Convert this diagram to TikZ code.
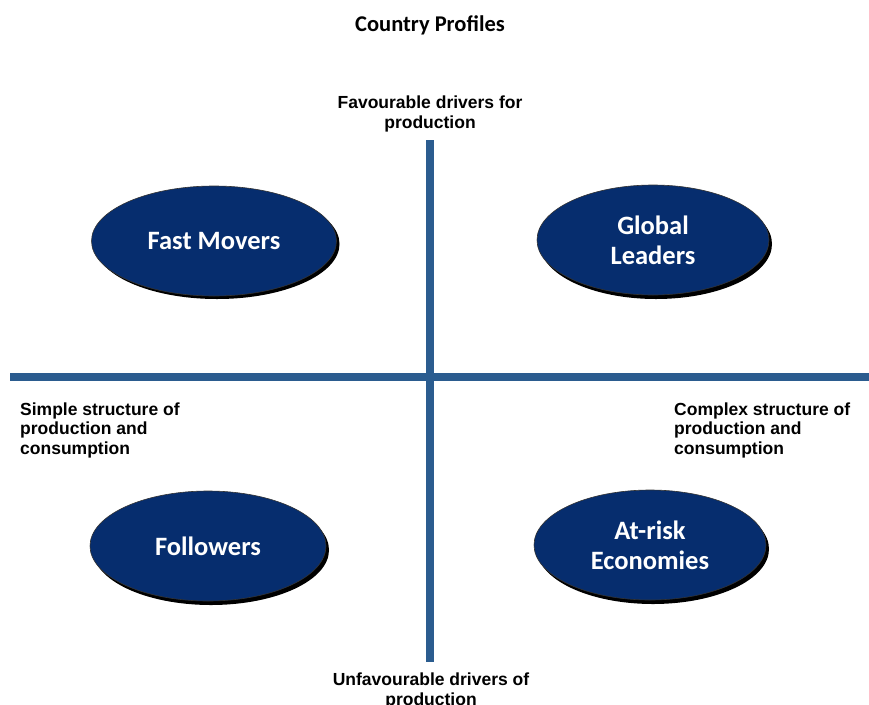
\documentclass[tikz,border=0pt]{standalone}
\usepackage{fontspec}
\setmainfont{Liberation Sans}
\newfontfamily\calfont{Carlito}
\usetikzlibrary{shapes.geometric}
\definecolor{axisblue}{RGB}{43,92,143}
\definecolor{navy}{RGB}{6,45,110}
\begin{document}
\begin{tikzpicture}[x=1pt,y=-1pt,
  quad/.style={ellipse, fill=navy, draw=black!80, line width=0.6pt, text=white,
    minimum width=#1, minimum height=110pt, inner sep=0pt, align=center,
    font=\calfont\bfseries\fontsize{26.5}{30}\selectfont},
  quad/.default=232pt,
  shadowell/.style={ellipse, fill=black, minimum width=#1, minimum height=110pt, inner sep=0pt},
  shadowell/.default=232pt,
  axislabel/.style={font=\bfseries\fontsize{17.5}{19.5}\selectfont, inner sep=0pt},
  axis/.style={draw=axisblue, line width=8pt}
]
\useasboundingbox (0,0) rectangle (869,704);
% title
\node[font=\calfont\bfseries\fontsize{22.5}{24}\selectfont, inner sep=0pt, anchor=base] (title) at (430,31) {Country Profiles};
% axes
\coordinate (vtop) at (430,140);
\coordinate (vbot) at (430,662);
\coordinate (hl) at (10,377);
\coordinate (hr) at (869,377);
\draw[axis] (vtop) -- (vbot);
\draw[axis] (hl) -- (hr);
% axis labels (base = last line's baseline)
\node[axislabel, anchor=base, align=center] (fav) at (430,128) {Favourable drivers for\\production};
\node[axislabel, anchor=base, align=center] (unfav) at (431,705) {Unfavourable drivers of\\production};
\node[axislabel, anchor=base west, align=left] (simple) at (20,454) {Simple structure of\\production and\\consumption};
\node[axislabel, anchor=base west, align=left] (complex) at (674,454) {Complex structure of\\production and\\consumption};
% shadows
\node[shadowell=245pt] (s1) at (217,244) {};
\node[shadowell] (s2) at (656,244) {};
\node[shadowell=236pt] (s3) at (211,550) {};
\node[shadowell] (s4) at (653,549) {};
% ellipses
\node[quad=245pt] (fast) at (214,241) {Fast Movers};
\node[quad] (global) at (653,240) {Global\\Leaders};
\node[quad=236pt] (follow) at (208,546) {Followers};
\node[quad] (atrisk) at (650,545) {At-risk\\Economies};
\end{tikzpicture}
\end{document}
